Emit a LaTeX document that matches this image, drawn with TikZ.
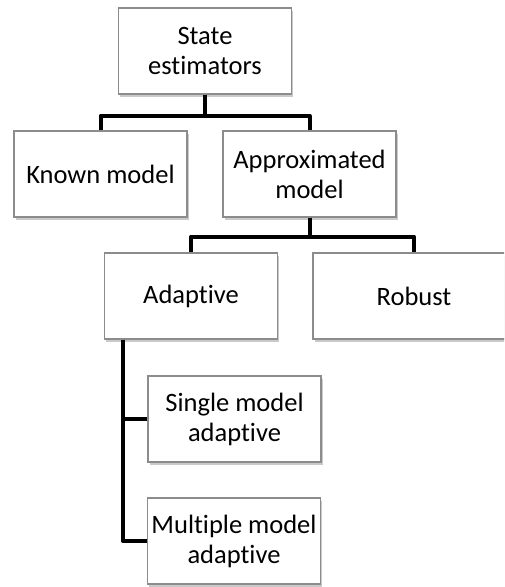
\documentclass[tikz,border=0pt]{standalone}
\usepackage{fontspec}
\setmainfont{Carlito}[Ligatures={NoCommon,NoContextual}, RawFeature={-liga;-clig}]
\usetikzlibrary{shadows}

\begin{document}
\begin{tikzpicture}[x=1pt, y=-1pt,
    box/.style={draw=black!45, line width=1.2pt, fill=white, align=center,
        minimum width=173pt, minimum height=86pt, inner sep=0pt,
        font=\fontsize{26.5}{30}\selectfont,
        drop shadow={shadow xshift=1.5pt, shadow yshift=-2.5pt, opacity=0.35, fill=black!60}},
    link/.style={line width=4pt, line join=round}]
    % 画布
    \path[use as bounding box, clip] (0,0) rectangle (504,587);

    % 方框
    \node[box] (est) at (205,51) {State\\estimators};
    \node[box] (known) at (100.5,174) {Known model};
    \node[box] (approx) at (309.5,174) {Approximated\\model};
    \node[box] (adapt) at (191,296) {Adaptive};
    \node[box, minimum width=202pt] (robust) at (414,296) {Robust};
    \node[box] (single) at (234.5,419) {Single model\\adaptive};
    \node[box] (multi) at (234,541) {Multiple model\\adaptive};

    % 连线
    \draw[link] (est.south) -- ++(0,21) -| (known.north);
    \draw[link] (est.south) -- ++(0,21) -| (approx.north);
    \draw[link] (approx.south) -- ++(0,19) -| (adapt.north);
    \draw[link] (approx.south) -- ++(0,19) -| (robust.north);
    \draw[link] ([xshift=19pt]adapt.south west) |- (single.west);
    \draw[link] ([xshift=19pt]adapt.south west) |- (multi.west);
\end{tikzpicture}
\end{document}
